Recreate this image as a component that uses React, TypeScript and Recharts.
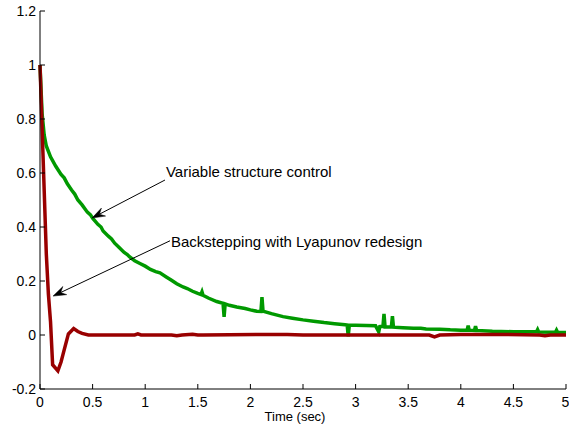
import React from 'react';
import { LineChart, Line, XAxis, YAxis, ReferenceLine } from 'recharts';

// Variable structure control response
const vscTime = [
  0, 0.02, 0.04, 0.06, 0.1, 0.15, 0.2, 0.23, 0.26, 0.3, 0.33, 0.36, 0.4, 0.45, 0.48, 0.5, 0.55, 0.58, 0.6,
  0.65, 0.68, 0.71, 0.75, 0.8, 0.83, 0.85, 0.9, 0.95, 1.0, 1.05, 1.1, 1.14, 1.2, 1.25, 1.3, 1.36, 1.4, 1.45,
  1.5, 1.53, 1.54, 1.55, 1.6, 1.68, 1.74, 1.75, 1.76, 1.8, 1.87, 1.95, 2.0, 2.06, 2.1, 2.11, 2.12, 2.2, 2.31,
  2.4, 2.5, 2.6, 2.7, 2.8, 2.9, 2.92, 2.93, 2.94, 3.0, 3.1, 3.19, 3.22, 3.23, 3.26, 3.27, 3.28, 3.34, 3.35,
  3.36, 3.45, 3.55, 3.62, 3.67, 3.8, 3.9, 4.0, 4.06, 4.07, 4.08, 4.13, 4.14, 4.15, 4.3, 4.5, 4.72, 4.73,
  4.74, 4.9, 4.91, 4.92, 5.0,
];
const vscValue = [
  1.0, 0.82, 0.74, 0.7, 0.66, 0.625, 0.595, 0.582, 0.56, 0.537, 0.522, 0.5, 0.482, 0.455, 0.445, 0.433, 0.41, 0.4, 0.385,
  0.366, 0.356, 0.34, 0.325, 0.306, 0.298, 0.29, 0.275, 0.265, 0.255, 0.243, 0.235, 0.23, 0.215, 0.203, 0.19, 0.178, 0.172, 0.162,
  0.154, 0.15, 0.16, 0.147, 0.137, 0.124, 0.117, 0.067, 0.115, 0.11, 0.104, 0.098, 0.093, 0.088, 0.087, 0.14, 0.088, 0.079, 0.068,
  0.062, 0.056, 0.051, 0.046, 0.042, 0.038, 0.037, -0.005, 0.036, 0.036, 0.035, 0.034, 0.012, 0.031, 0.032, 0.078, 0.03, 0.03, 0.07,
  0.029, 0.027, 0.025, 0.025, 0.022, 0.021, 0.019, 0.018, 0.018, 0.035, 0.018, 0.017, 0.033, 0.017, 0.014, 0.012, 0.012, 0.02,
  0.011, 0.01, 0.018, 0.01, 0.009,
];

// Backstepping with Lyapunov redesign response
const bsTime = [
  0, 0.03, 0.06, 0.08, 0.1, 0.12, 0.17, 0.2, 0.22, 0.27, 0.32, 0.36, 0.4, 0.46, 0.9, 0.93, 0.96, 1.25,
  1.3, 1.35, 1.45, 1.5, 1.55, 2.2, 2.35, 2.5, 3.7, 3.75, 3.8, 4.0, 4.4, 4.75, 4.8, 4.85, 5.0,
];
const bsValue = [
  1.0, 0.65, 0.3, 0.15, 0.05, -0.11, -0.133, -0.1, -0.07, 0.004, 0.024, 0.013, 0.006, 0, 0, 0.004, 0, 0,
  -0.003, 0, 0.003, 0, 0, 0.002, 0.002, 0, 0, -0.007, 0, 0.002, 0.002, 0, -0.003, 0, 0,
];

const xTicks = [0, 0.5, 1, 1.5, 2, 2.5, 3, 3.5, 4, 4.5, 5];
const yTicks = [-0.2, 0, 0.2, 0.4, 0.6, 0.8, 1, 1.2];

const vscData = vscTime.map((t, i) => ({ t, y: vscValue[i] }));
const bsData = bsTime.map((t, i) => ({ t, y: bsValue[i] }));

const FONT = '"Liberation Sans", Arial, Helvetica, sans-serif';

// arrow from text anchor (tail) to the curve (tip), with a notched head
const arrowShape = (text: string, tdx: number, tdy: number) => (props: any) => {
  const { x1, y1, x2, y2 } = props;
  const a = Math.atan2(y1 - y2, x1 - x2);
  const c = Math.cos(a);
  const s = Math.sin(a);
  const L = 13;
  const W = 4.5;
  const p = (d: number, w: number) => `${x2 + d * c - w * s},${y2 + d * s + w * c}`;
  const head = [p(0, 0), p(L, W), p(L * 0.65, 0), p(L, -W)].join(' ');
  return (
    <g>
      <line x1={x1} y1={y1} x2={x2 + c * 8} y2={y2 + s * 8} stroke="#000" strokeWidth={1} />
      <polygon points={head} fill="#000" stroke="#000" strokeWidth={0.5} />
      <text x={x1 + tdx} y={y1 + tdy} fontSize={15} fontFamily={FONT} fill="#000">
        {text}
      </text>
    </g>
  );
};

const tickStyle = { fill: '#000', fontSize: 14, fontFamily: FONT };

export default function App() {
  return (
    <div style={{ position: 'absolute', left: 0, top: 0, width: 569, height: 432, background: '#fff' }}>
      <LineChart width={569} height={432} margin={{ top: 11, right: 3, left: 0, bottom: 0 }}>
        <XAxis
          dataKey="t"
          type="number"
          domain={[0, 5]}
          ticks={xTicks}
          height={43}
          stroke="#000"
          tick={tickStyle}
          tickSize={-5}
          tickMargin={13}
          label={{
            content: (p: any) => (
              <text
                x={p.viewBox.x + p.viewBox.width / 2 - 8}
                y={421}
                textAnchor="middle"
                fontSize={13}
                fontFamily={FONT}
                fill="#000"
              >
                Time (sec)
              </text>
            ),
          }}
        />
        <XAxis
          xAxisId="top"
          orientation="top"
          dataKey="t"
          type="number"
          domain={[0, 5]}
          ticks={xTicks}
          height={0}
          stroke="#000"
          tick={false}
          tickSize={-5}
        />
        <YAxis
          type="number"
          domain={[-0.2, 1.2]}
          ticks={yTicks}
          width={40}
          stroke="#000"
          tick={tickStyle}
          tickSize={-5}
          tickMargin={9}
        />
        <YAxis
          yAxisId="right"
          orientation="right"
          type="number"
          domain={[-0.2, 1.2]}
          ticks={yTicks}
          width={0}
          stroke="#000"
          tick={false}
          tickSize={-5}
        />
        <Line
          data={vscData}
          dataKey="y"
          type="linear"
          stroke="#009900"
          strokeWidth={3.5}
          dot={false}
          isAnimationActive={false}
        />
        <Line
          data={bsData}
          dataKey="y"
          type="linear"
          stroke="#990000"
          strokeWidth={3.5}
          dot={false}
          isAnimationActive={false}
        />
        <ReferenceLine
          segment={[{ x: 1.188, y: 0.574 }, { x: 0.494, y: 0.433 }]}
          shape={arrowShape('Variable structure control', 1, -3)}
        />
        <ReferenceLine
          segment={[{ x: 1.236, y: 0.349 }, { x: 0.124, y: 0.144 }]}
          shape={arrowShape('Backstepping with Lyapunov redesign', 1, 6)}
        />
      </LineChart>
    </div>
  );
}
